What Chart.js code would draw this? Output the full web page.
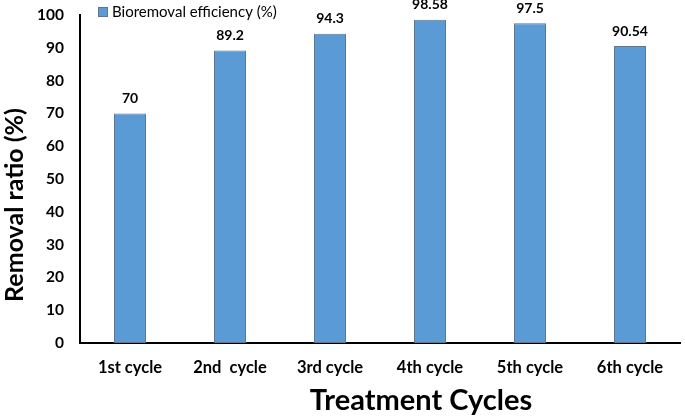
<!DOCTYPE html>
<html>
<head>
<meta charset="utf-8">
<script src="https://cdn.jsdelivr.net/npm/chart.js@4.4.0/dist/chart.umd.min.js"></script>
<style>
  html, body { margin: 0; padding: 0; background: #fff; }
  #wrap { width: 685px; height: 420px; position: relative; }
</style>
</head>
<body>
<div id="wrap"><canvas id="cyclesChart"></canvas></div>
<script>
const cycles = ['1st cycle', '2nd  cycle', '3rd cycle', '4th cycle', '5th cycle', '6th cycle'];
const efficiency = [70, 89.2, 94.3, 98.58, 97.5, 90.54];
const valueLabels = ['70', '89.2', '94.3', '98.58', '97.5', '90.54'];
const seriesName = 'Bioremoval efficiency (%)';
const xTitle = 'Treatment Cycles';
const yTitle = 'Removal ratio (%)';

const FONT = 'Lato, "Open Sans", sans-serif';
const barFill = '#5b9bd5';
const barEdge = '#5f7690';

// values above bars, legend box, axis titles
const labelsPlugin = {
  id: 'labelsPlugin',
  afterDatasetsDraw(chart) {
    const ctx = chart.ctx;
    const meta = chart.getDatasetMeta(0);
    ctx.save();
    ctx.fillStyle = '#000';
    ctx.font = 'bold 14px ' + FONT;
    ctx.textAlign = 'center';
    ctx.textBaseline = 'middle';
    meta.data.forEach((bar, i) => {
      ctx.fillText(valueLabels[i], bar.x, bar.y - 15);
    });

    // legend
    ctx.fillStyle = barFill;
    ctx.strokeStyle = barEdge;
    ctx.lineWidth = 1;
    ctx.fillRect(98.5, 7.5, 9, 9);
    ctx.strokeRect(98.5, 7.5, 9, 9);
    ctx.fillStyle = '#000';
    ctx.font = '15px ' + FONT;
    ctx.textAlign = 'left';
    ctx.fillText(seriesName, 112, 12);

    // axis titles
    ctx.textAlign = 'center';
    ctx.font = 'bold 29px ' + FONT;
    ctx.fillText(xTitle, 421, 401);
    ctx.translate(15, 205);
    ctx.rotate(-Math.PI / 2);
    ctx.font = 'bold 25px ' + FONT;
    ctx.fillText(yTitle, 0, 0);
    ctx.restore();
  }
};

const ctx = document.getElementById('cyclesChart').getContext('2d');
const cyclesChart = new Chart(ctx, {
  type: 'bar',
  data: {
    labels: cycles,
    datasets: [{
      label: seriesName,
      data: efficiency,
      backgroundColor: barFill,
      borderColor: barEdge,
      borderWidth: 1,
      borderSkipped: false,
      barPercentage: 0.64,
      categoryPercentage: 0.5
    }]
  },
  options: {
    responsive: true,
    maintainAspectRatio: false,
    animation: false,
    layout: { padding: { top: 15, right: 5, left: 0, bottom: 0 } },
    plugins: {
      legend: { display: false },
      tooltip: { enabled: false }
    },
    scales: {
      x: {
        grid: { display: false, drawTicks: false },
        border: { color: '#000', width: 2 },
        ticks: {
          color: '#000',
          padding: 15,
          font: { family: FONT, size: 16.5, weight: 'bold' }
        },
        afterFit(scale) {
          scale.height = 77;
          scale.paddingLeft = 0;
          scale.paddingRight = 0;
        }
      },
      y: {
        min: 0,
        max: 100,
        grid: { display: false, drawTicks: false },
        border: { color: '#000', width: 2 },
        ticks: {
          stepSize: 10,
          color: '#000',
          padding: 16,
          font: { family: FONT, size: 15.5, weight: 'bold' }
        },
        afterFit(scale) {
          scale.width = 80;
          scale.paddingTop = 0;
          scale.paddingBottom = 0;
        }
      }
    }
  },
  plugins: [labelsPlugin]
});
</script>
</body>
</html>
